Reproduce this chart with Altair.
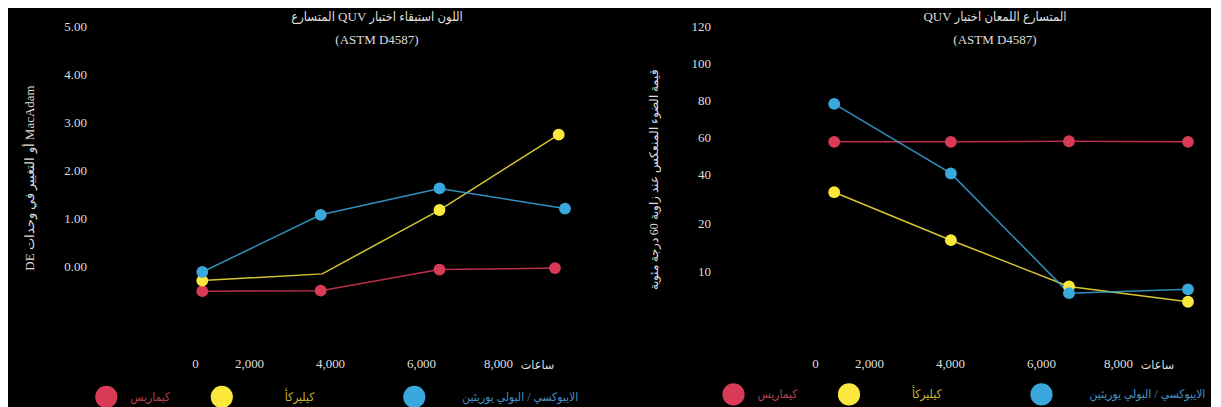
import json
import altair as alt
import pandas as pd

FONT = "Liberation Serif"
FONT_AR = "Liberation Serif, DejaVu Sans Condensed"
TXT = "#dedede"
LRI, PDI = "\u2066", "\u2069"
LRO, PDF, LRM = "\u202d", "\u202c", "\u200e"
NBSP = "\u00a0"

SERIES = ["سيراميك", "أكريليك", "الايبوكسي / البولي يوريثين"]
COLORS = ["#d93a57", "#fbe83c", "#3aa8dd"]
LABEL_COLORS = ["#b8404f", "#cbb62c", "#4a90c0"]
REVERSED_LABELS = ["سيراميك", "أكريليك"]

X_TICKS = [0, 2000, 4000, 6000, 8000]
X_RANGE = [101, 155, 236, 327, 404]

# Left panel: colour retention (DE)
color_hours_ceramic = [270, 3770, 6480, 9480]
color_de_ceramic = [-0.52, -0.51, -0.07, -0.04]
color_hours_acrylic = [270, 3810, 6480, 9577]
color_de_acrylic = [-0.30, -0.16, 1.17, 2.74]
color_marker_acrylic = [True, False, True, True]
color_hours_epoxy = [270, 3770, 6480, 9740]
color_de_epoxy = [-0.12, 1.07, 1.62, 1.20]
COLOR_Y_TICKS = [0, 1, 2, 3, 4, 5]

# Right panel: gloss retention (60 deg)
gloss_hours = [711, 4020, 6727, 9818]
gloss_ceramic = [57.5, 57.5, 57.8, 57.5]
gloss_acrylic = [32.7, 16.5, 8.4, 6.8]
gloss_epoxy = [78.0, 40.4, 7.7, 8.1]
GLOSS_Y_TICKS = [10, 20, 40, 60, 80, 100, 120]
GLOSS_Y_DOMAIN = [5, 10, 20, 40, 120]
GLOSS_Y_RANGE = [292.7, 245, 197.3, 148, 0]

W, H = 485, 326.4

# legend label spacing (non-breaking spaces before / after each label)
LEAD = [0, 13, 8]
TRAIL = [0, 16, 0]


def rows(series, hours, values, markers=None):
    markers = markers or [True] * len(hours)
    return [{"series": series, "hours": h, "v": v, "marker": m}
            for h, v, m in zip(hours, values, markers)]


left_df = pd.DataFrame(
    rows(SERIES[0], color_hours_ceramic, color_de_ceramic)
    + rows(SERIES[1], color_hours_acrylic, color_de_acrylic, color_marker_acrylic)
    + rows(SERIES[2], color_hours_epoxy, color_de_epoxy)
)
right_df = pd.DataFrame(
    rows(SERIES[0], gloss_hours, gloss_ceramic)
    + rows(SERIES[1], gloss_hours, gloss_acrylic)
    + rows(SERIES[2], gloss_hours, gloss_epoxy)
)

label_color_expr = "%s[indexof(%s, datum.value)]" % (
    json.dumps(LABEL_COLORS), json.dumps(SERIES, ensure_ascii=False))


def _lab(i):
    lead, trail = NBSP * LEAD[i], NBSP * TRAIL[i]
    if SERIES[i] in REVERSED_LABELS:
        return "'%s%s' + datum.label + '%s%s'" % (LRO, lead, trail, PDF)
    return "'%s%s' + datum.label + '%s%s'" % (LRM, lead, trail, LRM)


label_text_expr = "datum.value == %s ? %s : datum.value == %s ? %s : %s" % (
    json.dumps(SERIES[0], ensure_ascii=False), _lab(0),
    json.dumps(SERIES[1], ensure_ascii=False), _lab(1), _lab(2))


def x_enc():
    return alt.X(
        "hours:Q",
        scale=alt.Scale(domain=X_TICKS, range=X_RANGE, nice=False, zero=False),
        axis=alt.Axis(
            values=X_TICKS, format=",.0f", labelFont=FONT, labelFontSize=13,
            labelColor=TXT, domain=False, ticks=False, grid=False,
            labelPadding=5, labelFlush=False, labelOverlap=False,
            title="ساعات", titleX=443, titleY=12, titleAlign="center",
            titleBaseline="middle", titleAngle=0, titleFont=FONT_AR,
            titleFontSize=12.5, titleFontWeight="normal", titleColor=TXT,
        ),
    )


def legend(lx, ly):
    return alt.Legend(
        orient="none", legendX=lx, legendY=ly, direction="horizontal",
        title=None, symbolType="circle", symbolSize=491, symbolStrokeWidth=0,
        symbolOpacity=1, labelFont=FONT_AR, labelFontSize=12, labelOffset=12.5,
        columnPadding=39.5, labelLimit=400,
        labelColor=alt.ExprRef(expr=label_color_expr),
        labelExpr=label_text_expr,
    )


def panel(df, y_enc, title_lines, title_dx, title_offset, lx, ly):
    base = alt.Chart(df)
    line = base.mark_line(strokeWidth=1.5, strokeOpacity=0.85).encode(
        x=x_enc(), y=y_enc,
        stroke=alt.Stroke("series:N", sort=SERIES, scale=alt.Scale(range=COLORS), legend=None),
        detail="series:N",
    )
    pts = base.mark_circle(size=140, opacity=1).encode(
        x=x_enc(), y=y_enc,
        color=alt.Color("series:N", scale=alt.Scale(domain=SERIES, range=COLORS),
                        legend=legend(lx, ly)),
    ).transform_filter("datum.marker")
    return alt.layer(line, pts).properties(
        width=W, height=H,
        title=alt.TitleParams(
            text=title_lines, font=FONT_AR, fontSize=13, fontWeight="normal",
            color=TXT, anchor="middle", dx=title_dx, offset=title_offset,
            lineHeight=22.5,
        ),
    )


left_y = alt.Y(
    "v:Q",
    scale=alt.Scale(domain=[-1.8, 5], nice=False, zero=False),
    axis=alt.Axis(
        values=COLOR_Y_TICKS, format=".2f", labelFont=FONT, labelFontSize=13,
        labelColor=TXT, domain=False, ticks=False, tickSize=0, grid=False,
        labelPadding=7.5,
        title=LRI + "DE أو التغيير في وحدات MacAdam" + PDI, titleX=-65, titleY=151.3,
        titleAlign="center", titleBaseline="middle", titleFont=FONT,
        titleFontSize=13, titleFontWeight="normal", titleColor=TXT,
    ),
)

right_y = alt.Y(
    "v:Q",
    scale=alt.Scale(domain=GLOSS_Y_DOMAIN, range=GLOSS_Y_RANGE, nice=False, zero=False),
    axis=alt.Axis(
        values=GLOSS_Y_TICKS, labelFont=FONT, labelFontSize=13,
        labelColor=TXT, domain=False, ticks=False, tickSize=0, grid=False,
        labelPadding=3.5, labelOverlap=False,
        title="قيمة الضوء المنعكس عند زاوية 60 درجة مئوية", titleX=-60.5, titleY=153,
        titleAlign="center", titleBaseline="middle", titleFont=FONT,
        titleFontSize=12, titleFontWeight="normal", titleColor=TXT,
    ),
)

left = panel(left_df, left_y,
             [LRI + "المتسارع QUV اللون استبقاء اختبار" + PDI, "(ASTM D4587)"],
             40.5, -26.5, 0.8, 359)
right = panel(right_df, right_y,
              [LRI + "QUV المتسارع اللمعان اختبار" + PDI, "(ASTM D4587)"],
              38.5, -26.5, 8, 356.5)

chart = (
    alt.hconcat(left, right, spacing=68)
    .resolve_scale(color="independent", stroke="independent", x="independent", y="independent")
    .resolve_legend(color="independent")
    .properties(background="#000000", padding={"left": 15, "top": 3.2, "right": 5, "bottom": 35})
    .configure_view(stroke=None)
)

chart.save("out.html", embed_options={"renderer": "svg", "actions": False})
